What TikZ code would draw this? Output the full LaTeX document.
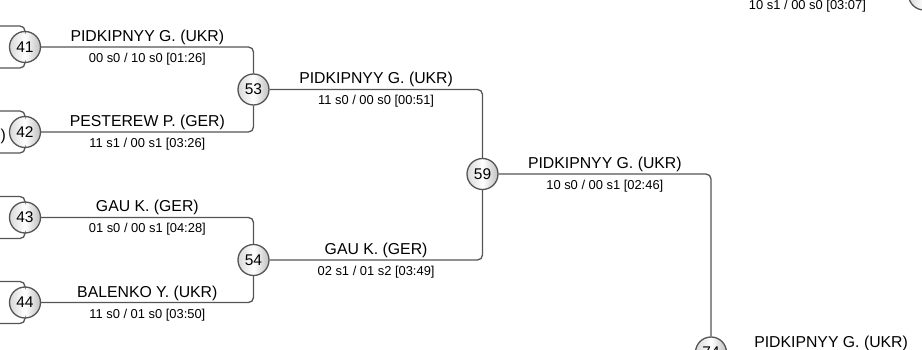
\documentclass[tikz,border=0pt]{standalone}
\usepackage{fontspec}
\setmainfont{Liberation Sans}
\usepackage{tikz}
\usetikzlibrary{calc}
\definecolor{linegray}{HTML}{555555}
\tikzstyle{bout}=[circle, draw=linegray, line width=1.3pt, minimum size=31pt, inner sep=0pt,
left color=gray!30, right color=gray!50, middle color=white, font=\fontsize{15.5}{16}\selectfont]
\tikzstyle{link}=[draw=linegray, line width=1.3pt, rounded corners=5pt]
\tikzstyle{pname}=[font=\fontsize{15.8}{16}\selectfont, anchor=base, yshift=5.5pt, inner sep=0pt]
\tikzstyle{pscore}=[font=\fontsize{12.9}{13}\selectfont, anchor=base, yshift=-15.5pt, inner sep=0pt]

\begin{document}
\begin{tikzpicture}[x=1pt,y=-1pt]
      \useasboundingbox (0,0) rectangle (922,350);
      \clip (0,0) rectangle (922,350);
      % first round shown
      \node [bout] (n41) at (25,47) {41};
      \node [bout] (n42) at (25,132) {42};
      \node [bout] (n43) at (25,217.5) {43};
      \node [bout] (n44) at (25,302.5) {44};
      \node [bout] (n53) at (253.5,89.5) {53};
      \node [bout] (n54) at (253.5,260) {54};
      \node [bout] (n59) at (482.5,174) {59};
      \node [bout] (n74) at (711,352.5) {74};
      \node [bout] (nR) at (924,-5.5) {};
      % feeders from the left
      \foreach \n/\y in {41/47, 42/132, 43/217.5, 44/302.5} {
        \coordinate (f\n a) at (-10,\y-21);
        \coordinate (f\n b) at (-10,\y+21);
        \draw[link] (f\n a) -| (n\n);
        \draw[link] (f\n b) -| (n\n);
      }
      \node [pname, anchor=base east, yshift=0pt] (t42b) at (6,146) {)};
      \coordinate (w74) at (935,352.5);
      \coordinate (r0) at (707,-5.5);
      \draw[link] (n41) -| node[pname, pos=0.25] {PIDKIPNYY G. (UKR)} node[pscore, pos=0.25] {00 s0 / 10 s0 [01:26]} (n53);
      \draw[link] (n42) -| node[pname, pos=0.25] {PESTEREW P. (GER)} node[pscore, pos=0.25] {11 s1 / 00 s1 [03:26]} (n53);
      \draw[link] (n43) -| node[pname, pos=0.25] {GAU K. (GER)} node[pscore, pos=0.25] {01 s0 / 00 s1 [04:28]} (n54);
      \draw[link] (n44) -| node[pname, pos=0.25] {BALENKO Y. (UKR)} node[pscore, pos=0.25] {11 s0 / 01 s0 [03:50]} (n54);
      \draw[link] (n53) -| node[pname, pos=0.25] {PIDKIPNYY G. (UKR)} node[pscore, pos=0.25] {11 s0 / 00 s0 [00:51]} (n59);
      \draw[link] (n54) -| node[pname, pos=0.25] {GAU K. (GER)} node[pscore, pos=0.25] {02 s1 / 01 s2 [03:49]} (n59);
      \draw[link] (n59) -| node[pname, pos=0.25] {PIDKIPNYY G. (UKR)} node[pscore, pos=0.25] {10 s0 / 00 s1 [02:46]} (n74);
      \draw[link] (n74) -- node[pname] {PIDKIPNYY G. (UKR)} (w74);
      \draw[link] (r0) -- node[pscore] {10 s1 / 00 s0 [03:07]} (nR);
\end{tikzpicture}
\end{document}
